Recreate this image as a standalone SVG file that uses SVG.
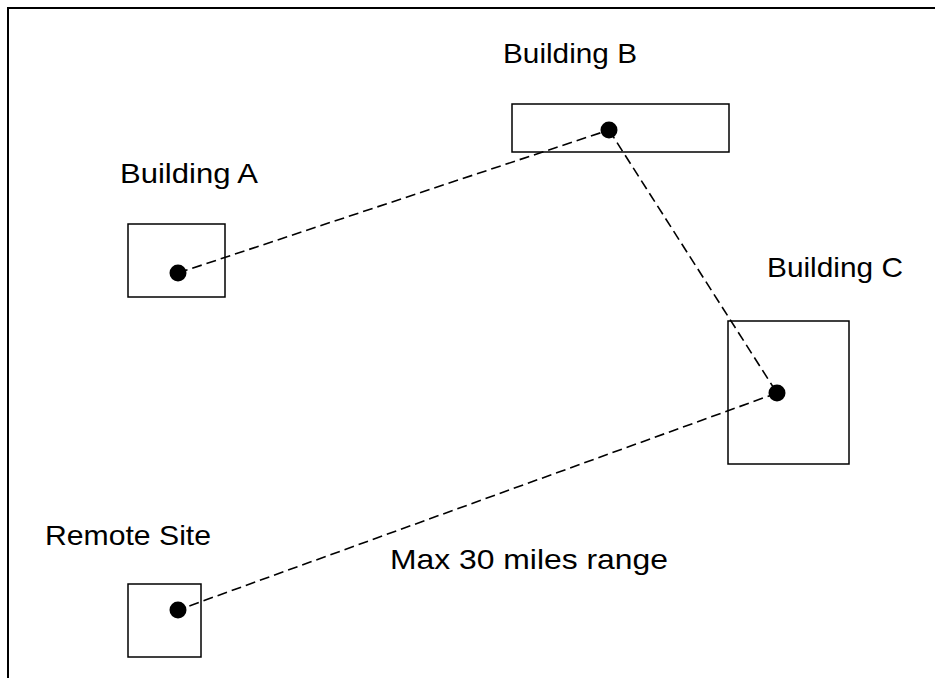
<svg xmlns="http://www.w3.org/2000/svg" width="935" height="678" viewBox="0 0 935 678">
<style>
.box{fill:#fff;stroke:#000;stroke-width:1.5}
.dot{fill:#000}
.lbl{font-family:"Liberation Sans",Arial,sans-serif;font-size:28px;fill:#000}
.link{fill:none;stroke:#000;stroke-width:1.6;stroke-dasharray:10 5}
</style>
<rect x="0" y="0" width="935" height="678" fill="#fff"/>
<rect x="8" y="8" width="940" height="690" fill="none" stroke="#000" stroke-width="2"/>
<g id="buildingA">
<rect class="box" x="128" y="224" width="97" height="73"/>
<text class="lbl" x="120" y="183" textLength="138" lengthAdjust="spacingAndGlyphs">Building A</text>
</g>
<g id="buildingB">
<rect class="box" x="512" y="104" width="217" height="48"/>
<text class="lbl" x="503" y="63" textLength="134" lengthAdjust="spacingAndGlyphs">Building B</text>
</g>
<g id="buildingC">
<rect class="box" x="728" y="321" width="121" height="143"/>
<text class="lbl" x="767" y="277" textLength="136" lengthAdjust="spacingAndGlyphs">Building C</text>
</g>
<g id="remoteSite">
<rect class="box" x="128" y="584" width="73" height="73"/>
<text class="lbl" x="45" y="545" textLength="166" lengthAdjust="spacingAndGlyphs">Remote Site</text>
</g>
<g id="connectors">
<line class="link" x1="178" y1="273" x2="609" y2="130"/>
<line class="link" x1="609" y1="130" x2="777" y2="393"/>
<line class="link" x1="777" y1="393" x2="178" y2="610"/>
<text class="lbl" x="390" y="569" textLength="278" lengthAdjust="spacingAndGlyphs">Max 30 miles range</text>
</g>
<g id="dots">
<circle class="dot" cx="178" cy="273" r="8.5"/>
<circle class="dot" cx="609" cy="130" r="8.5"/>
<circle class="dot" cx="777" cy="393" r="8.5"/>
<circle class="dot" cx="178" cy="610" r="8.5"/>
</g>
</svg>
